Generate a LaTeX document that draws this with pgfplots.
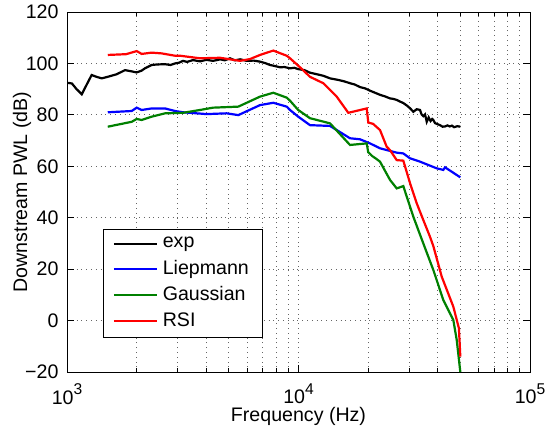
\documentclass[border=0pt]{standalone}
\usepackage{fontspec}
\setmainfont{Liberation Sans}
\usepackage{pgfplots}
\usepackage{pgfplotstable}
\pgfplotsset{compat=1.18}

\pgfplotstableread{
f v
1000 92.5
1050 92.2
1100 90.0
1158 88.0
1220 92.0
1278 95.5
1340 94.8
1412 94.2
1500 94.8
1639 95.8
1700 96.5
1780 97.4
1880 97.0
2000 96.5
2100 97.2
2172 98.1
2322 99.4
2450 99.6
2651 99.7
2800 99.4
2928 100.0
3050 100.3
3170 101.0
3300 100.6
3502 101.3
3754 100.8
4000 101.4
4272 101.0
4600 101.6
4800 101.2
5060 102.0
5300 101.2
5600 101.6
5973 101.0
6400 101.1
6820 100.7
7200 100.1
7530 99.4
7900 99.0
8320 98.5
8700 98.6
9190 98.1
9600 98.3
9970 97.8
10600 97.4
11210 96.4
12000 95.8
12800 95.2
13680 94.2
15000 93.5
15800 93.0
16690 92.3
17500 91.8
18440 90.8
19400 90.3
20370 89.4
21400 88.6
22490 87.8
23600 87.2
24850 86.4
25700 86.2
26560 85.8
27400 85.2
28360 84.6
29500 83.5
30300 82.6
31330 81.2
32410 82.2
33490 81.9
34000 80.2
34600 79.5
35200 80.2
35800 77.3
36500 79.0
37200 77.6
37800 78.4
38220 78.0
38900 76.8
39540 76.5
40850 76.0
41900 75.4
42940 75.5
44000 75.9
45000 75.5
46000 75.8
47000 75.2
48500 75.6
50000 75.4
}\expdata

\pgfplotstableread{
f v
1500 81.0
1903 81.5
2000 82.8
2102 81.9
2322 82.5
2651 82.5
2928 81.5
3170 81.0
4013 80.3
4896 80.6
5495 79.9
6820 83.8
7783 84.7
8892 83.2
9190 81.9
9970 79.3
11210 76.0
13680 75.7
16690 70.9
18440 70.5
20370 68.9
22490 67.0
26560 65.3
28360 65.0
30310 63.1
33490 61.8
39540 59.2
42220 58.6
42940 59.6
50000 55.7
}\liepdata

\pgfplotstableread{
f v
1500 75.4
1903 77.3
2000 78.4
2102 78.0
2322 79.3
2651 80.6
3170 80.8
3754 81.9
4272 82.8
5495 83.2
6820 87.1
7783 88.6
8892 86.7
9190 85.5
9970 81.9
11210 78.7
13680 76.7
16690 68.3
19710 68.9
20000 65.5
20800 64.0
21600 63.0
22490 61.8
24850 54.7
26560 51.4
28360 52.3
31330 40.4
34600 30.0
38220 19.7
42220 8.0
46640 0.2
48250 -7.6
50000 -20.0
}\gaussdata

\pgfplotstableread{
f v
1500 103.3
1800 103.6
2000 104.8
2102 103.7
2322 104.2
2565 103.9
2928 103.0
3077 103.0
3754 102.0
4580 102.2
5588 101.0
6172 101.7
6820 103.3
7783 105.0
8892 103.0
9190 102.0
10150 98.5
11210 94.8
12800 92.3
14620 87.1
16410 80.8
19710 82.5
20020 77.0
21000 76.5
22490 74.1
24040 67.6
24850 66.3
26560 62.4
28360 62.2
30310 53.5
32410 45.6
34600 39.1
36980 32.6
38220 29.0
41550 17.1
46640 5.4
49300 -3.0
50000 -14.0
}\rsidata

\begin{document}
\fontsize{9.8}{11.8}\selectfont
\begin{tikzpicture}
\useasboundingbox (-33.5pt,-26.5pt) rectangle (239.5pt,186pt);
\begin{axis}[
  at={(0,0)}, anchor=south west,
  scale only axis, width=231.5pt, height=180pt,
  xmode=log, xmin=1000, xmax=100000, ymin=-20, ymax=120,
  xtick={1000,10000,100000},
  xticklabels={10\raisebox{.48em}{\fontsize{7.8}{8}\selectfont 3},10\raisebox{.48em}{\fontsize{7.8}{8}\selectfont 4},10\raisebox{.48em}{\fontsize{7.8}{8}\selectfont 5}},
  minor xtick={2000,3000,4000,5000,6000,7000,8000,9000,20000,30000,40000,50000,60000,70000,80000,90000},
  ytick={-20,0,20,40,60,80,100,120},
  yticklabels={−20,0,20,40,60,80,100,120},
  tick align=inside, xtick pos=both, ytick pos=both,
  major tick length=3.5pt, minor tick length=2pt,
  tick style={black, line width=0.4pt},
  xmajorgrids, xminorgrids, ymajorgrids,
  major grid style={dotted, black!60, line width=0.4pt},
  minor grid style={dotted, black!60, line width=0.4pt},
  axis line style={line width=0.5pt},
  ticklabel style={font=\fontsize{9.8}{11.8}\selectfont},
  yticklabel style={xshift=-0.8pt},
  xticklabel style={inner sep=0.5pt, yshift=-5.2pt},
  xlabel={Frequency (Hz)},
  ylabel={Downstream PWL (dB)},
  label style={font=\fontsize{9.8}{11.8}\selectfont},
  xlabel style={inner sep=0.5pt, at={(axis description cs:0.5,-0.123)}, anchor=center},
  ylabel style={at={(axis description cs:-0.097,0.5)}, anchor=center},
  legend style={at={(0.0784,0.0936)}, anchor=south west, draw=black, line width=0.5pt,
    font=\fontsize{9.8}{11.8}\selectfont, inner xsep=4.5pt, inner ysep=2pt,
    row sep=0.2pt, nodes={inner sep=2.2pt}},
  legend cell align=left,
  legend image code/.code={\draw[#1, line width=1.1pt] (0pt,0pt) -- (21.7pt,0pt);},
]
\addplot[black, line width=1.1pt] table[x=f,y=v] {\expdata};
\addlegendentry{exp}
\addplot[blue, line width=1.1pt] table[x=f,y=v] {\liepdata};
\addlegendentry{Liepmann}
\addplot[color={rgb,1:red,0;green,0.5;blue,0}, line width=1.1pt] table[x=f,y=v] {\gaussdata};
\addlegendentry{Gaussian}
\addplot[red, line width=1.1pt] table[x=f,y=v] {\rsidata};
\addlegendentry{RSI}
\end{axis}
\end{tikzpicture}
\end{document}
